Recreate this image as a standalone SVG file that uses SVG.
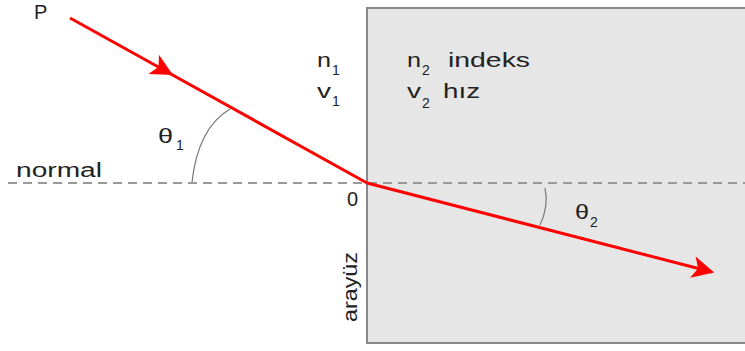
<svg xmlns="http://www.w3.org/2000/svg" width="745" height="351" viewBox="0 0 745 351">
<style>
text{font-family:"Liberation Sans",Arial,sans-serif;fill:#222;font-size:20px}
.sub{font-size:14px}
.ray{stroke:#f00;stroke-width:3;fill:none}
.arc{stroke:#777;stroke-width:1.2;fill:none}
</style>
<defs>
<marker id="ah2" viewBox="0 0 10 10" refX="9" refY="5" markerWidth="22" markerHeight="22" markerUnits="userSpaceOnUse" orient="auto">
<path d="M0,0 L10,5 L0,10 L2.5,5 Z" fill="#f00"/>
</marker>
</defs>
<rect width="745" height="351" fill="#fff"/>
<g id="medium2">
<rect x="367" y="8" width="400" height="335" fill="#e6e6e6" stroke="#888" stroke-width="2"/>
</g>
<g id="normal">
<line x1="8" y1="183" x2="745" y2="183" stroke="#999" stroke-width="2" stroke-dasharray="9,6"/>
<text x="16" y="177" textLength="86" lengthAdjust="spacingAndGlyphs">normal</text>
</g>
<g id="connectors">
<path class="ray" d="M70,18 L171,74" marker-end="url(#ah2)"/>
<path class="ray" d="M160,68 L367,183"/>
<path class="ray" d="M367,183 L712,272" marker-end="url(#ah2)"/>
</g>
<g id="angles">
<path class="arc" d="M192,182 Q198,128 230,109"/>
<path class="arc" d="M545,188 Q549,206 540,225"/>
<text x="158" y="143" textLength="15" lengthAdjust="spacingAndGlyphs">θ</text><text class="sub" x="176" y="150">1</text>
<text x="575" y="219" textLength="14" lengthAdjust="spacingAndGlyphs">θ</text><text class="sub" x="590" y="227">2</text>
</g>
<g id="labels">
<text x="34" y="19" font-size="19">P</text>
<text x="317" y="67" textLength="14" lengthAdjust="spacingAndGlyphs">n</text><text class="sub" x="332" y="75">1</text>
<text x="317" y="98" textLength="14" lengthAdjust="spacingAndGlyphs">v</text><text class="sub" x="332" y="106">1</text>
<text x="407" y="67" textLength="14" lengthAdjust="spacingAndGlyphs">n</text><text class="sub" x="422" y="75">2</text><text x="448" y="67" textLength="82" lengthAdjust="spacingAndGlyphs">indeks</text>
<text x="407" y="98" textLength="14" lengthAdjust="spacingAndGlyphs">v</text><text class="sub" x="422" y="108">2</text><text x="443" y="98" textLength="37" lengthAdjust="spacingAndGlyphs">hız</text>
<text x="347" y="206">0</text>
<text transform="translate(357,322) rotate(-90)" textLength="70" lengthAdjust="spacingAndGlyphs">arayüz</text>
</g>
</svg>
